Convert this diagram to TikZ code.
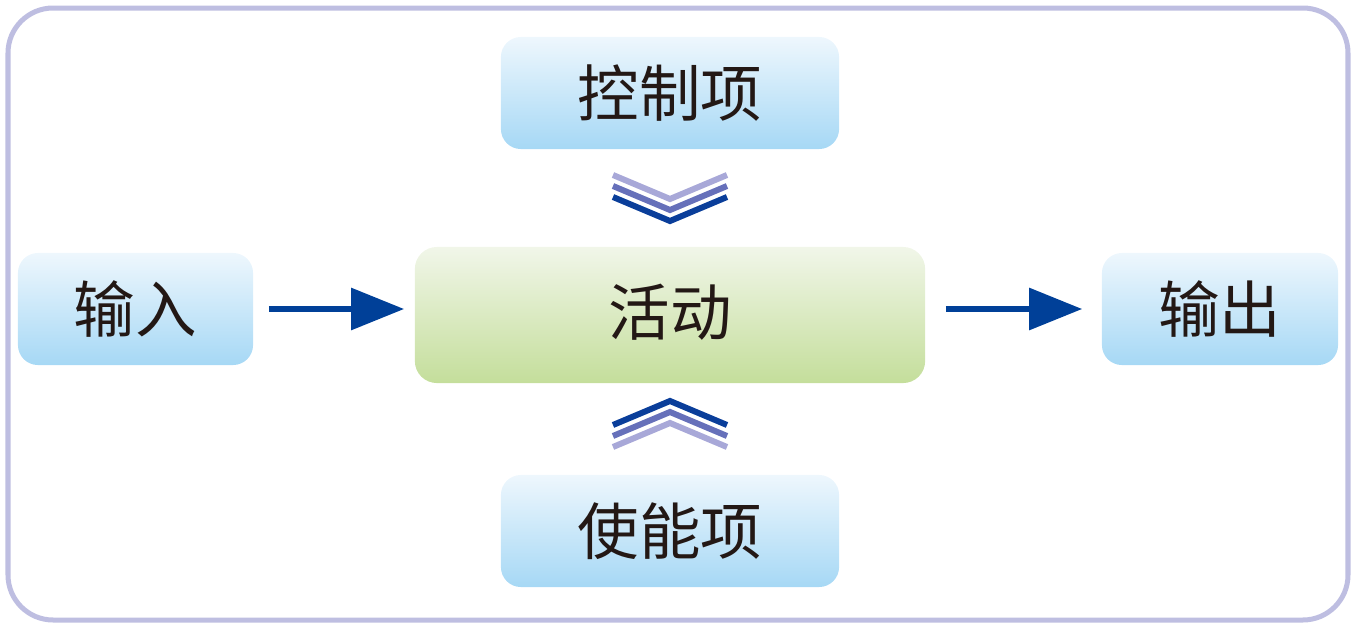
\documentclass[tikz,border=0pt]{standalone}
\usepackage{fontspec}
\newfontfamily\cjk{Noto Sans CJK SC}
\usetikzlibrary{arrows.meta}
\definecolor{framecol}{RGB}{190,190,225}
\definecolor{bluetop}{RGB}{238,247,253}
\definecolor{bluebot}{RGB}{166,216,245}
\definecolor{greentop}{RGB}{241,246,233}
\definecolor{greenbot}{RGB}{196,222,155}
\definecolor{arrowcol}{RGB}{0,64,152}
\definecolor{chevlight}{RGB}{168,168,216}
\definecolor{chevmid}{RGB}{102,112,186}
\definecolor{chevdark}{RGB}{10,62,154}
\definecolor{textcol}{RGB}{35,24,21}
\tikzset{
  itembox/.style={rounded corners=0.2cm, top color=bluetop, bottom color=bluebot,
    minimum height=1.12cm, text=textcol, font=\cjk\fontsize{17.5}{20}\selectfont},
  actbox/.style={rounded corners=0.22cm, top color=greentop, bottom color=greenbot,
    minimum width=5.1cm, minimum height=1.36cm, text=textcol, font=\cjk\fontsize{17.5}{20}\selectfont},
  flow/.style={draw=arrowcol, line width=0.06cm, -{Triangle[length=0.53cm,width=0.41cm]}},
  chev/.style={line width=0.06cm, miter limit=10}
}
\begin{document}
\begin{tikzpicture}[x=0.01cm,y=-0.01cm]
  \useasboundingbox (0,0) rectangle (1356,630);
  \draw[framecol, line width=0.05cm, rounded corners=0.45cm] (8,8) rectangle (1348,620);
  % boxes
  \node[itembox, minimum width=3.38cm] (ctrl) at (670,93) {控制项};
  \node[itembox, minimum width=3.38cm] (enab) at (670,531) {使能项};
  \node[itembox, minimum width=2.35cm] (inp) at (135.5,309) {输入};
  \node[itembox, minimum width=2.36cm] (outp) at (1220,309) {输出};
  \node[actbox] (act) at (670,315) {\raisebox{0.1cm}{活动}};
  % arrow ends, a little off the boxes
  \path (inp.east) ++(15,0) coordinate (inpa);
  \path (act.west |- inp.east) ++(-10,0) coordinate (actw);
  \path (act.east |- outp.west) ++(20,0) coordinate (acte);
  \path (outp.west) ++(-19,0) coordinate (outpa);
  % arrows
  \draw[flow] (inpa) -- (actw);
  \draw[flow] (acte) -- (outpa);
  % chevrons above
  \draw[chev, chevlight] (613,175) -- (670,199) -- (727,175);
  \draw[chev, chevmid] (613,186) -- (670,210) -- (727,186);
  \draw[chev, chevdark] (613,197) -- (670,221) -- (727,197);
  % chevrons below
  \draw[chev, chevdark] (613,425) -- (670,401) -- (727,425);
  \draw[chev, chevmid] (613,436) -- (670,412) -- (727,436);
  \draw[chev, chevlight] (613,447) -- (670,423) -- (727,447);
\end{tikzpicture}
\end{document}
